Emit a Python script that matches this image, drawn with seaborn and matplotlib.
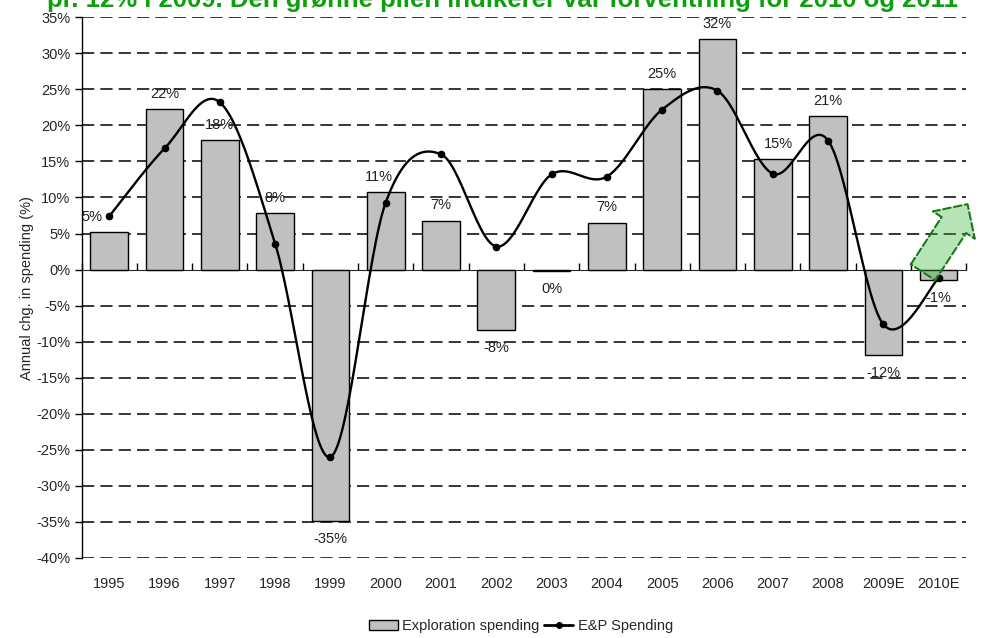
import numpy as np
import seaborn as sns
import matplotlib.pyplot as plt
from matplotlib.patches import Patch, FancyArrowPatch
from matplotlib.lines import Line2D

# data
years = ['1995', '1996', '1997', '1998', '1999', '2000', '2001', '2002',
         '2003', '2004', '2005', '2006', '2007', '2008', '2009E', '2010E']
exploration = [5.2, 22.3, 18.0, 7.8, -34.8, 10.7, 6.8, -8.4,
               -0.2, 6.5, 25.0, 32.0, 15.3, 21.3, -11.8, -1.5]
bar_labels = ['5%', '22%', '18%', '8%', '-35%', '11%', '7%', '-8%',
              '0%', '7%', '25%', '32%', '15%', '21%', '-12%', '-1%']
ep_spending = [7.4, 16.8, 23.2, 3.6, -26.0, 9.3, 16.0, 3.2,
               13.2, 12.9, 22.2, 24.8, 13.3, 17.9, -7.6, -1.2]
yticks = list(range(-40, 40, 5))

title = 'pr. 12% i 2009. Den grønne pilen indikerer vår forventning for 2010 og 2011'

sns.set_style('white')
plt.rcParams['font.family'] = ['Liberation Sans', 'DejaVu Sans']

fig = plt.figure(figsize=(9.83, 6.38), dpi=100)
ax = fig.add_axes([0.083, 0.1254, 0.9, 0.8476])

sns.barplot(x=years, y=exploration, color='#c0c0c0', saturation=1,
            edgecolor='black', linewidth=1, width=0.68, ax=ax)

# excel style smoothed line (bezier through the points)
pos = np.arange(len(years), dtype=float)
vals = np.array(ep_spending)
pts = np.column_stack([pos, vals])
ext = np.vstack([pts[0], pts, pts[-1]])
curve = []
t = np.linspace(0, 1, 30)[:, None]
for i in range(len(pts) - 1):
    p0, p1, p2, p3 = ext[i], ext[i + 1], ext[i + 2], ext[i + 3]
    c1 = p1 + (p2 - p0) / 6
    c2 = p2 - (p3 - p1) / 6
    seg = ((1 - t) ** 3) * p1 + 3 * ((1 - t) ** 2) * t * c1 + 3 * (1 - t) * t ** 2 * c2 + t ** 3 * p2
    curve.append(seg)
curve = np.vstack(curve)
ax.plot(curve[:, 0], curve[:, 1], color='black', lw=1.7, zorder=4)
ax.plot(pos, vals, 'o', color='black', ms=4.5, zorder=5)

# value labels
nudge = {0: -17, 5: -7, 12: 6}
for i, (v, lab) in enumerate(zip(exploration, bar_labels)):
    dy = 11 if v > 0 else -13
    ax.annotate(lab, (i, v), xytext=(nudge.get(i, 0) * 0.72, dy),
                textcoords='offset points', ha='center', va='center',
                fontsize=10.5, color='#222222', zorder=6)

# axes styling
ax.set_xlim(-0.5, len(years) - 0.5)
ax.set_ylim(-40, 35)
ax.set_yticks(yticks)
ax.set_yticklabels([f'{y}%' for y in yticks], fontsize=10.5)
for y in yticks:
    if y != 0:
        ax.axhline(y, color='black', lw=1.1, ls=(0, (8, 4)), zorder=0)
for s in ['top', 'right', 'bottom']:
    ax.spines[s].set_visible(False)
ax.spines['left'].set_color('black')
ax.spines['left'].set_linewidth(1)
ax.tick_params(axis='y', direction='out', length=5, width=1, color='black', left=True, pad=3)
ax.tick_params(axis='x', length=0, labelsize=10.5, pad=14)
ax.set_ylabel('Annual chg. in spending (%)', fontsize=10.5, labelpad=2)
ax.set_xlabel('')

# zero axis with ticks between categories
zero_ax = ax.secondary_xaxis(40 / 75)
zero_ax.set_xticks(np.arange(-0.5, len(years), 1.0))
zero_ax.set_xticklabels([])
zero_ax.tick_params(direction='out', length=5, width=1, color='black')
zero_ax.spines['bottom'].set_linewidth(1)

# green forecast arrow
arrow = FancyArrowPatch((14.69, -0.7), (15.55, 9.4),
                        arrowstyle='simple,head_length=1.8,head_width=3.6,tail_width=2.1',
                        mutation_scale=10, facecolor=(0.2, 0.7, 0.2, 0.35),
                        edgecolor='#1a7a1a', linestyle='--', linewidth=1.5,
                        clip_on=False, zorder=7)
ax.add_patch(arrow)

handles = [Patch(facecolor='#c0c0c0', edgecolor='black'),
           Line2D([], [], color='black', lw=2, marker='o', ms=4)]
fig.legend(handles, ['Exploration spending', 'E&P Spending'], loc='center',
           bbox_to_anchor=(0.53, 0.019), ncol=2, frameon=False, fontsize=10.5,
           handlelength=2, handletextpad=0.3, columnspacing=0.3)

fig.text(0.511, 1 - 7 / 638, title, color='#0e9e0e', fontsize=18.5, fontweight='bold',
         ha='center', va='baseline')

fig.savefig('out.png', dpi=100)
